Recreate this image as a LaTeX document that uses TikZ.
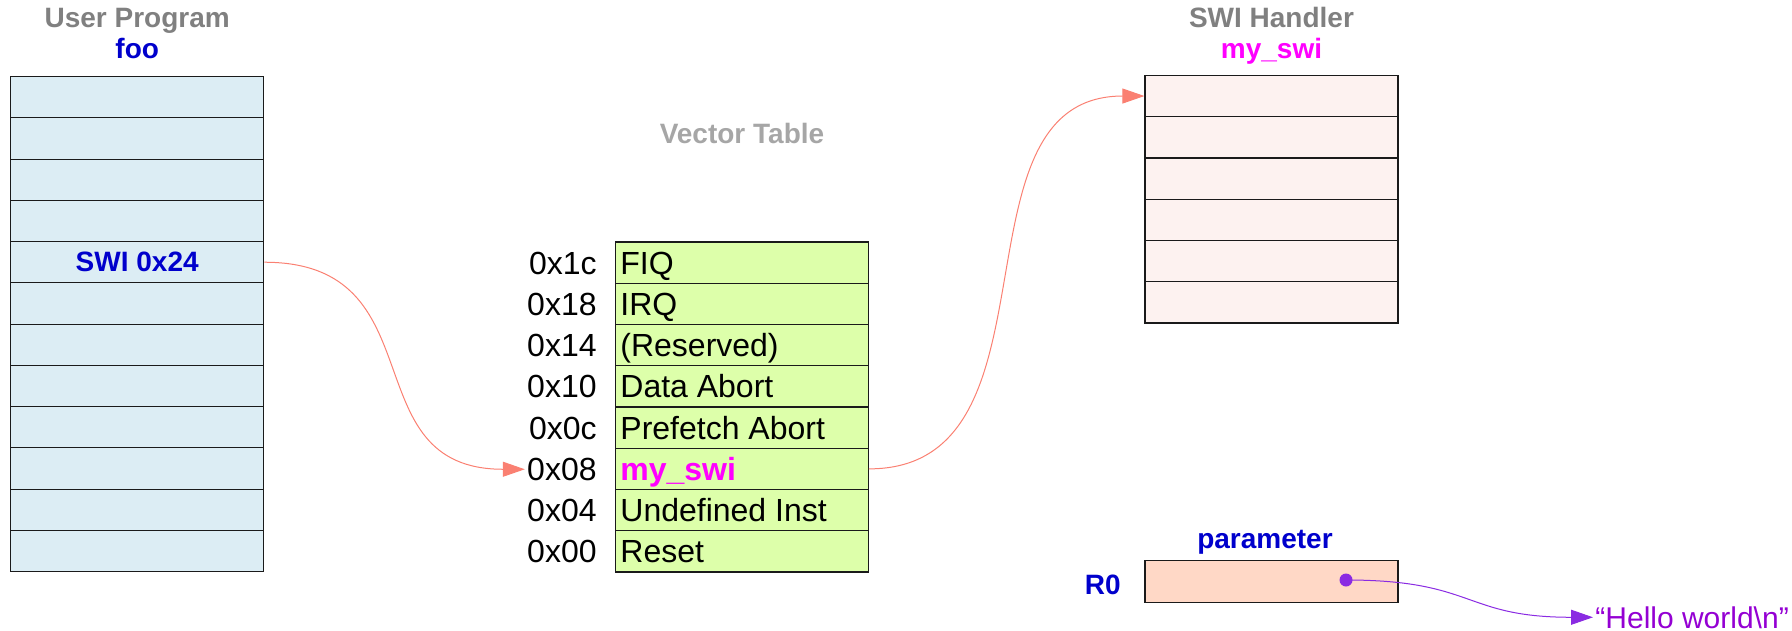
\documentclass[tikz,border=0pt]{standalone}
\usepackage{fontspec}
\setmainfont{Liberation Sans}
\usetikzlibrary{arrows.meta}

\definecolor{progfill}{RGB}{220,237,244}
\definecolor{vecfill}{RGB}{221,255,170}
\definecolor{swifill}{RGB}{253,242,240}
\definecolor{parfill}{RGB}{255,216,198}
\definecolor{cellline}{RGB}{26,26,26}
\definecolor{callsalmon}{RGB}{250,128,114}
\definecolor{ptrpurple}{RGB}{138,43,226}
\definecolor{hellopurple}{RGB}{148,0,211}
\definecolor{namblue}{RGB}{0,0,204}
\definecolor{swimag}{RGB}{255,0,255}
\definecolor{titlegray}{RGB}{128,128,128}
\definecolor{tablegray}{RGB}{166,166,166}

\begin{document}
\begin{tikzpicture}[x=0.5pt, y=-0.5pt,
	memcell/.style={draw=cellline, line width=0.6pt, rectangle, inner sep=0, minimum width=126.5pt, minimum height=20.625pt},
	headtext/.style={font=\fontsize{14}{16}\selectfont\bfseries, anchor=base, inner sep=0},
	tabtext/.style={font=\fontsize{16}{19}\selectfont, inner sep=1pt},
	calltip/.style={draw=callsalmon, line width=0.5pt, -{Triangle[length=11pt,width=7.5pt]}},
	ptrtip/.style={draw=ptrpurple, line width=0.5pt, -{Triangle[length=11pt,width=7.5pt]}}]
	
	\useasboundingbox (0,0) rectangle (1792,631);
	
	% User program
	\node (prog title) at (137.2,27.5) [headtext, text=titlegray] {User Program};
	\node (prog name) at (137.2,59) [headtext, text=namblue] {foo};
	\foreach \n in {0,...,11}{
		\node (prog \n) at (137.2,{76.6+41.25*(\n+0.5)}) [memcell, fill=progfill] {};
	}
	\node (swi call) at (prog 4) [headtext, anchor=center, text=namblue] {SWI 0x24};
	
	% Vector table
	\node (vec title) at (742,143) [headtext, text=tablegray] {Vector Table};
	\foreach \addr/\name [count=\n from 0] in {0x1c/FIQ, 0x18/IRQ, 0x14/{(Reserved)}, 0x10/Data Abort, 0x0c/Prefetch Abort, 0x08/{\textcolor{swimag}{\bfseries my\_swi}}, 0x04/Undefined Inst, 0x00/Reset}{
		\node (vec \n) at (741.8,{242+41.25*(\n+0.5)}) [memcell, fill=vecfill] {};
		\node (addr \n) at (599,{253.4+41.25*(\n+0.5)}) [tabtext, anchor=base east] {\addr};
		\node (entry \n) at (618,{253.4+41.25*(\n+0.5)}) [tabtext, anchor=base west] {\name};
	}
	
	% SWI handler
	\node (swi title) at (1271.5,27.5) [headtext, text=titlegray] {SWI Handler};
	\node (swi name) at (1271.5,59) [headtext, text=swimag] {my\_swi};
	\foreach \n in {0,...,5}{
		\node (swi \n) at (1271.5,{75.4+41.25*(\n+0.5)}) [memcell, fill=swifill] {};
	}
	
	% Parameter register
	\node (param title) at (1265,548) [headtext, text=namblue] {parameter};
	\node (param) at (1271.5,581.5) [memcell, fill=parfill] {};
	\node (reg) at (1121,594) [headtext, anchor=base east, text=namblue] {R0};
	\node (ptr) at (1346,580) [circle, fill=ptrpurple, inner sep=0, minimum size=6.5pt] {};
	\node (hello) at (1593,628) [anchor=base west, inner sep=1pt, font=\fontsize{15}{18}\selectfont, text=hellopurple] {“Hello world\textbackslash n”};
	
	% Connectors
	\draw [calltip] (prog 4.east) .. controls +(175,0) and +(-175,0) .. (addr 5.west);
	\draw [calltip] (vec 5.east) .. controls +(200,0) and +(-200,0) .. (swi 0.west);
	\draw [ptrtip] (ptr.center) .. controls +(130,0) and +(-130,0) .. (hello.west);
	
\end{tikzpicture}
\end{document}
